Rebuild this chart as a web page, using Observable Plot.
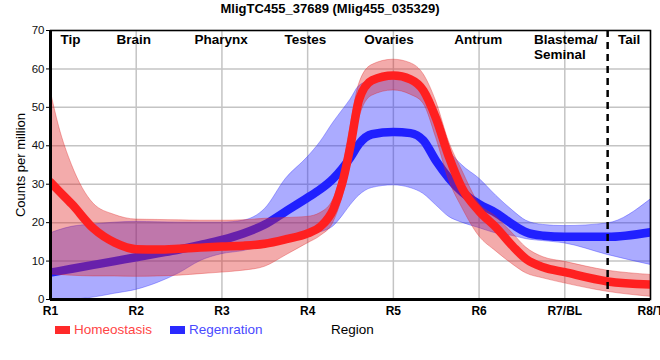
<!DOCTYPE html>
<html><head><meta charset="utf-8">
<script src="https://cdn.jsdelivr.net/npm/d3@7"></script>
<script src="https://cdn.jsdelivr.net/npm/@observablehq/plot@0.6"></script>
<style>
body{margin:0;background:#fff;font-family:"Liberation Sans",Arial,sans-serif;}
#wrap{position:relative;width:660px;height:360px;overflow:hidden;background:#fff;}
#title{position:absolute;top:1px;left:0;width:660px;text-align:center;font-weight:bold;font-size:13px;line-height:16px;color:#000;}
#chart{position:absolute;top:20px;left:0;}
#ylab{position:absolute;left:20px;top:165px;transform:translate(-50%,-50%) rotate(-90deg);font-size:13px;white-space:nowrap;color:#000;}
.sw{position:absolute;top:326px;width:15px;height:8px;}
.lt{position:absolute;top:322px;font-size:13.5px;line-height:16px;}
</style></head>
<body>
<div id="wrap">
  <div id="title">MligTC455_37689 (Mlig455_035329)</div>
  <div id="chart"></div>
  <div id="ylab">Counts per million</div>
  <div class="sw" style="left:55px;background:#ff2a2a"></div>
  <div class="lt" style="left:74px;color:#ff4545">Homeostasis</div>
  <div class="sw" style="left:170px;background:#2a2aff"></div>
  <div class="lt" style="left:189px;color:#4a4aff">Regenration</div>
  <div class="lt" style="left:331px;color:#000">Region</div>
</div>
<script>
// Region index positions (R1 = 1 ... R8/T = 8)
const xs = [1, 1.1, 1.25, 1.5, 1.75, 2, 2.25, 2.5, 2.75, 3, 3.25, 3.5, 3.75, 4, 4.15, 4.3, 4.4, 4.5, 4.6, 4.75, 5, 5.2, 5.35, 5.5, 5.65, 5.8, 6, 6.2, 6.4, 6.55, 6.75, 7, 7.5, 8];
// Homeostasis
const homMean = [30.5, 28.2, 24.8, 18.5, 14.8, 13.1, 13.0, 13.2, 13.5, 13.8, 14.0, 14.5, 15.7, 17.2, 19, 23.5, 30, 40, 52, 57, 58.3, 57.3, 54.4, 47, 37, 29, 23, 18.7, 13.7, 10.5, 8.4, 7.1, 4.7, 3.9];
const homHi   = [54.4, 45, 35, 25, 22, 20.8, 20.7, 20.6, 20.5, 20.5, 20.6, 21, 21.2, 21.5, 22.5, 26, 33, 45, 56, 61, 62.4, 61.5, 58.7, 51.5, 41, 33.7, 25, 21.5, 17, 13.5, 11, 9.8, 7.5, 6.4];
const homLo   = [6.5, 6.4, 6.2, 6, 6, 5.9, 6.0, 6.2, 6.6, 7, 7.5, 8.5, 11.5, 14.6, 16.5, 20, 26, 35, 47, 53, 54.4, 53.3, 51, 42, 31, 24, 16.5, 12.5, 9, 6.8, 5.5, 4.2, 2.0, 0.7];
// Regeneration
const regMean = [7, 7.4, 8, 9, 10, 11, 12, 13, 14.2, 15.5, 17.2, 19.5, 23, 26.5, 28.7, 31.5, 34, 37, 40.5, 43, 43.6, 43.3, 41.4, 36, 31.5, 28, 24.8, 22.5, 19.4, 17.5, 16.6, 16.3, 16.3, 17.5];
const regHi   = [17.2, 18, 18.9, 19.5, 20, 20.2, 20.1, 20, 20, 20, 20.5, 23.5, 31.5, 37, 41, 46, 49, 52, 55.5, 57, 58, 57.5, 55, 47, 39, 35, 31.5, 27, 23, 20.5, 19.4, 19.1, 19.8, 26];
const regLo   = [0, 0, 0, 0.5, 1.5, 2.5, 4.3, 6.8, 10, 11.8, 12.6, 14, 15.7, 16.8, 17.5, 19, 21.5, 24.5, 27, 29, 29.7, 29, 27.5, 24.5, 21.5, 20, 18.6, 17.2, 16.5, 15.7, 15.2, 14.6, 11.6, 9];

const tickPos = [1, 2, 3, 4, 5, 6, 7, 8];
const tickLabels = ["R1", "R2", "R3", "R4", "R5", "R6", "R7/BL", "R8/T"];
const yTicks = [0, 10, 20, 30, 40, 50, 60, 70];
const regionNames = ["Tip", "Brain", "Pharynx", "Testes", "Ovaries", "Antrum", "Blastema/\nSeminal", "Tail"];
const regionX = [1.117, 1.77, 2.68, 3.73, 4.66, 5.71, 6.64, 7.62];
const tailBoundary = [7.5];

const hom = xs.map((x, i) => ({x, m: homMean[i], lo: homLo[i], hi: homHi[i]}));
const reg = xs.map((x, i) => ({x, m: regMean[i], lo: regLo[i], hi: regHi[i]}));
const regions = regionNames.map((name, i) => ({name, x: regionX[i]}));
const curve = "monotone-x";

const chart = Plot.plot({
  width: 660, height: 300,
  marginLeft: 50, marginRight: 10, marginTop: 10, marginBottom: 21,
  style: {fontFamily: "'Liberation Sans', Arial, sans-serif", background: "#fff", overflow: "visible"},
  x: {domain: [1, 8]},
  y: {domain: [0, 70]},
  marks: [
    Plot.gridX(tickPos, {stroke: "#c4c4c4", strokeOpacity: 1, strokeWidth: 1.5}),
    Plot.gridY(yTicks, {stroke: "#c4c4c4", strokeOpacity: 1, strokeWidth: 1.5}),
    Plot.areaY(reg, {x: "x", y1: "lo", y2: "hi", fill: "#2222ff", fillOpacity: 0.38, stroke: "#2222ff", strokeOpacity: 0.35, strokeWidth: 1, curve, clip: true}),
    Plot.line(reg, {x: "x", y: "m", stroke: "#2020ff", strokeWidth: 8.5, curve, clip: true}),
    Plot.areaY(hom, {x: "x", y1: "lo", y2: "hi", fill: "#e02222", fillOpacity: 0.38, stroke: "#e02222", strokeOpacity: 0.35, strokeWidth: 1, curve, clip: true}),
    Plot.line(hom, {x: "x", y: "m", stroke: "#ff2020", strokeWidth: 8.5, curve, clip: true}),
    Plot.ruleX(tailBoundary, {stroke: "#000", strokeWidth: 2.5, strokeDasharray: "7,5"}),
    Plot.frame({stroke: "#000", strokeWidth: 1.5}),
    Plot.ruleY([0], {stroke: "#000", strokeWidth: 3}),
    Plot.ruleX([1], {stroke: "#000", strokeWidth: 3}),
    Plot.axisX(tickPos, {tickSize: 0, tickPadding: 7, fontSize: 12, fontWeight: "bold", fill: "#000", tickFormat: (d) => tickLabels[tickPos.indexOf(d)], label: null}),
    Plot.axisY(yTicks, {tickSize: 4, tickPadding: 2, fontSize: 11.5, fill: "#111", label: null, stroke: "#000"}),
    Plot.text(regions, {x: "x", y: 70, text: "name", textAnchor: "start", lineAnchor: "top", dy: 3, fontSize: 13.5, fontWeight: "bold", fill: "#000", lineHeight: 1.12})
  ]
});
document.getElementById("chart").appendChild(chart);
</script>
</body></html>
